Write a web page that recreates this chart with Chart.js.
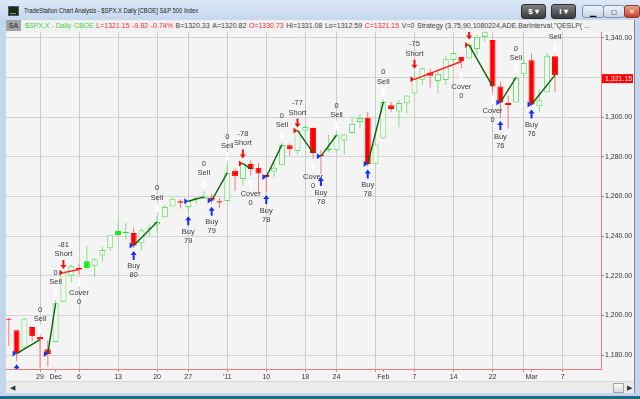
<!DOCTYPE html>
<html>
<head>
<meta charset="utf-8">
<title>$SPX.X Daily</title>
<script src="https://cdn.jsdelivr.net/npm/chart.js@4.4.1/dist/chart.umd.min.js"></script>
<style>
  body { margin: 0; width: 640px; height: 399px; overflow: hidden; position: relative;
         background: #c3d6ec; font-family: "Liberation Sans", Arial, sans-serif; }
  .titlebar { position: absolute; left: 0; top: 0; width: 640px; height: 20px;
              background: linear-gradient(#dde8f6, #c5d7ee); }
  .title { position: absolute; left: 24px; top: 6px; font-size: 7.4px; color: #1a1a1a; white-space: nowrap;
           transform: scaleX(0.79); transform-origin: left center; }
  .appicon { position: absolute; left: 8px; top: 6px; width: 9px; height: 8px; background: #1d2620; border: 1px solid #556; }
  .appicon::after { content: ""; position: absolute; left: 1px; top: 4px; width: 6px; height: 2px; border-bottom: 1px solid #3c3; }
  .tbtn { position: absolute; top: 4px; height: 13px; border-radius: 3px; font-size: 8px; text-align: center; line-height: 13px; }
  .dark { background: linear-gradient(#808080, #3a3a3a); color: #fff; width: 23px; border: 1px solid #2c2c2c; font-weight: bold; }
  .win { top: 5px; height: 11px; width: 20px; background: linear-gradient(#f0f4fa, #c7d4e5); border: 1px solid #8093ab; }
  .close { background: linear-gradient(#eba190, #c6442c); border-color: #8a3a2a; color: #fff; font-size: 7px; line-height: 11px; }
  .strip { position: absolute; left: 6px; top: 20px; width: 628px; height: 12px; background: #f1f1f1;
           font-size: 7px; line-height: 12px; white-space: nowrap; overflow: hidden; color: #444; }
  .strip span { margin-right: 2.6px; }
  .sa { display: inline-block; width: 15px; height: 11px; background: #a2a2a2; color: #222; text-align: center; margin-right: 4px !important; }
  .g { color: #3fd13f; }
  .r { color: #ea3434; }
  #wrap { position: absolute; left: 6px; top: 32px; width: 628px; height: 349px; background: #f4f4f4; }
  .rframe { position: absolute; left: 634px; top: 20px; width: 1px; height: 373px; background: #7d8896; }
  .scroll { position: absolute; left: 6px; top: 381px; width: 628px; height: 11px; background: #ebebeb; border-top: 1px solid #d8d8d8; }
  .scroll .la { position: absolute; left: 4px; top: 0; font-size: 7px; color: #333; line-height: 11px; }
  .scroll .thumb { position: absolute; left: 607px; top: 1px; width: 9px; height: 8px; background: linear-gradient(#fafafa, #d9d9d9); border: 1px solid #a5a5a5; }
  .scroll .ra { position: absolute; left: 621px; top: 0; font-size: 7px; color: #333; line-height: 11px; }
  .bottom { position: absolute; left: 0; top: 396px; width: 640px; height: 3px; background: #1c6c83; }
</style>
</head>
<body>
<div class="titlebar">
  <div class="appicon"></div>
  <div class="title">TradeStation Chart Analysis - $SPX.X Daily [CBOE] S&amp;P 500 Index</div>
  <div class="tbtn dark" style="left:521px">$ &#9662;</div>
  <div class="tbtn dark" style="left:551px">I &#9662;</div>
  <div class="tbtn win" style="left:582px">&#9601;</div>
  <div class="tbtn win" style="left:603px">&#9633;</div>
  <div class="tbtn win close" style="left:624px;width:14px">&#10005;</div>
</div>
<div class="strip" id="strip"></div>
<div id="wrap"><canvas id="chart" width="628" height="349"></canvas></div>
<div class="rframe"></div>
<div class="scroll"><span class="la">&#9664;</span><span class="thumb"></span><span class="ra">&#9654;</span></div>
<div class="bottom"></div>

<script>
// daily bars, Nov 22 2010 .. Mar 4 2011
const dates = ["11/22","11/23","11/24","11/26","11/29","11/30","12/1","12/2","12/3","12/6","12/7","12/8","12/9","12/10",
  "12/13","12/14","12/15","12/16","12/17","12/20","12/21","12/22","12/23","12/27","12/28","12/29","12/30","12/31",
  "1/3","1/4","1/5","1/6","1/7","1/10","1/11","1/12","1/13","1/14","1/18","1/19","1/20","1/21","1/24","1/25","1/26",
  "1/27","1/28","1/31","2/1","2/2","2/3","2/4","2/7","2/8","2/9","2/10","2/11","2/14","2/15","2/16","2/17","2/18",
  "2/22","2/23","2/24","2/25","2/28","3/1","3/2","3/3","3/4"];
const opens = [1198.07,1192.51,1183.70,1194.16,1189.08,1182.96,1186.60,1206.81,1219.93,1223.87,1227.25,1225.02,1230.14,1233.85,
  1242.52,1241.84,1241.58,1236.34,1243.63,1245.76,1249.43,1254.94,1257.53,1254.66,1259.10,1258.78,1259.44,1256.76,
  1257.62,1272.95,1268.78,1276.29,1274.41,1270.84,1272.58,1275.65,1285.78,1282.90,1293.22,1294.52,1280.85,1283.63,1283.29,1288.17,1291.97,
  1297.51,1299.63,1276.50,1289.14,1305.91,1302.77,1307.01,1311.85,1318.76,1322.48,1318.13,1318.66,1328.73,1330.43,1329.51,1334.37,1340.38,
  1338.91,1315.44,1307.09,1307.34,1321.61,1328.64,1305.47,1312.37,1330.73];
const highs = [1198.94,1192.51,1198.62,1194.16,1189.08,1187.40,1207.61,1221.89,1225.57,1225.80,1235.05,1228.93,1234.71,1240.40,
  1246.73,1246.59,1244.25,1243.75,1245.81,1250.20,1255.82,1259.39,1258.59,1258.43,1259.90,1262.60,1261.09,1259.34,
  1276.17,1274.12,1277.63,1278.17,1276.83,1271.52,1277.25,1286.87,1286.70,1293.24,1296.06,1294.60,1283.35,1291.21,1291.93,1291.26,1299.74,
  1301.63,1302.67,1287.17,1308.86,1307.61,1308.60,1311.00,1322.85,1324.87,1324.54,1322.78,1330.79,1332.96,1330.43,1337.61,1341.50,1344.07,
  1338.91,1317.91,1310.91,1320.61,1329.38,1332.09,1314.19,1332.28,1331.08];
const lows = [1184.58,1176.91,1183.70,1186.93,1173.64,1174.14,1186.60,1206.81,1216.82,1220.67,1223.25,1219.50,1226.85,1232.58,
  1240.34,1238.17,1234.01,1232.85,1239.87,1241.51,1249.43,1254.94,1254.05,1251.48,1256.22,1258.78,1256.32,1254.19,
  1257.62,1262.66,1265.36,1270.43,1261.70,1262.18,1269.62,1275.65,1280.47,1281.24,1290.16,1278.92,1271.26,1282.07,1282.47,1281.07,1291.97,
  1294.42,1275.10,1276.50,1289.14,1302.62,1294.83,1301.67,1311.85,1316.03,1314.89,1311.74,1316.08,1326.90,1324.61,1329.51,1331.00,1338.12,
  1312.33,1299.55,1294.26,1307.34,1320.55,1305.34,1302.58,1312.37,1312.59];
const closes = [1197.84,1180.73,1198.35,1189.40,1187.76,1180.55,1206.07,1221.53,1224.71,1223.12,1223.75,1228.28,1233.00,1240.40,
  1240.46,1241.59,1235.23,1242.87,1243.91,1247.08,1254.60,1258.84,1256.77,1257.54,1258.51,1259.78,1257.88,1257.64,
  1271.87,1270.20,1276.56,1273.85,1271.50,1269.75,1274.48,1285.96,1283.76,1293.24,1295.02,1281.92,1280.26,1283.35,1290.84,1291.18,1296.63,
  1299.54,1276.34,1286.12,1307.59,1304.03,1307.10,1310.87,1319.05,1324.57,1320.88,1321.87,1329.15,1332.32,1328.01,1336.32,1340.43,1343.01,
  1315.44,1307.40,1306.10,1319.88,1327.22,1306.33,1308.44,1330.97,1321.15];
const priorClose = 1199.73;

// strategy trades (bar numbers), filled at the close
const tradeEntry = [1, 5, 7, 16, 23, 26, 30, 33, 37, 40, 46, 52, 59, 63, 67];
const tradeExit  = [4, 6, 9, 19, 25, 28, 31, 35, 39, 42, 48, 58, 62, 65, 70];
const tradeSide  = ["Buy","Buy","Short","Buy","Buy","Buy","Short","Buy","Short","Buy","Buy","Short","Short","Buy","Buy"];
const tradeQty   = ["81","81","-81","80","79","79","-78","78","-77","78","78","-75","-76","76","76"];

// axis
const xTickBars = [4, 6, 9, 14, 19, 23, 28, 33, 38, 42, 47, 48, 52, 57, 62, 66, 67, 71];
const xTickText = ["29","Dec","6","13","20","27","'11","10","18","24","","Feb","7","14","22","","Mar","7"];
const weekBars = [4, 9, 14, 19, 23, 28, 33, 38, 42, 47, 52, 57, 62, 66, 71];
const yTicks = [1180, 1200, 1220, 1240, 1260, 1280, 1300, 1320, 1340];

const fontFamily = '"Liberation Sans", Arial, sans-serif';
Chart.defaults.font.family = fontFamily;

const last = closes.length - 1;
const lastClose = closes[last];
const fmt = v => v.toLocaleString("en-US", { minimumFractionDigits: 2, maximumFractionDigits: 2 });

// status strip
const chg = lastClose - closes[last - 1];
document.getElementById("strip").innerHTML =
  '<span class="sa">SA</span>' +
  '<span class="g">$SPX.X - Daily</span><span class="g">CBOE</span>' +
  '<span class="r">L=' + lastClose.toFixed(2) + '</span>' +
  '<span class="r">' + chg.toFixed(2) + '</span>' +
  '<span class="r">' + (chg / closes[last - 1] * 100).toFixed(2) + '%</span>' +
  '<span>B=1320.33</span><span>A=1320.82</span>' +
  '<span class="r">O=' + opens[last].toFixed(2) + '</span>' +
  '<span>Hi=' + highs[last].toFixed(2) + '</span>' +
  '<span>Lo=' + lows[last].toFixed(2) + '</span>' +
  '<span class="r">C=' + lastClose.toFixed(2) + '</span>' +
  '<span>V=0</span>' +
  '<span>Strategy (3,75,90,1080224,ADE.BarInterval,"QESLP( ...</span>';

// candle colours: green/red vs previous close, hollow when close >= open
const upDay = closes.map((c, i) => c >= (i ? closes[i - 1] : priorClose));
const hollow = closes.map((c, i) => c >= opens[i]);
const bodyFill = closes.map((c, i) => hollow[i] ? "#f4f4f4" : (upDay[i] ? "#12ec12" : "#ff0000"));
const bodyEdge = closes.map((c, i) => upDay[i] ? (hollow[i] ? "#5ede5e" : "#12ec12") : (hollow[i] ? "#f26060" : "#ff0000"));
const wickColor = upDay.map(u => u ? "#7ee47e" : "#f27a7a");

const tradeLines = tradeEntry.map((e, k) => {
  const x0 = tradeExit[k];
  const win = tradeSide[k] === "Buy" ? closes[x0] > closes[e] : closes[x0] < closes[e];
  return {
    type: "line",
    data: [{ x: e, y: closes[e] }, { x: x0, y: closes[x0] }],
    borderColor: win ? "#0b640b" : "#ff1c1c",
    borderWidth: 1.4,
    pointRadius: 0,
    order: 0
  };
});

function arrow(ctx, cx, tip, tail, color) {
  const d = tail > tip ? 1 : -1;
  ctx.fillStyle = color;
  ctx.beginPath();
  ctx.moveTo(cx, tip);
  ctx.lineTo(cx + 3, tip + d * 4);
  ctx.lineTo(cx + 1, tip + d * 4);
  ctx.lineTo(cx + 1, tail);
  ctx.lineTo(cx - 1, tail);
  ctx.lineTo(cx - 1, tip + d * 4);
  ctx.lineTo(cx - 3, tip + d * 4);
  ctx.closePath();
  ctx.fill();
}

// arrows, labels and entry markers
const tradeMarks = {
  id: "tradeMarks",
  afterDatasetsDraw(chart) {
    const { ctx, chartArea: a, scales: { x, y } } = chart;
    ctx.save();
    ctx.beginPath();
    ctx.rect(a.left, a.top, a.right - a.left, a.bottom - a.top);
    ctx.clip();
    ctx.font = "7.5px " + fontFamily;
    ctx.textAlign = "center";
    ctx.textBaseline = "middle";

    const above = (i, color, l1, l2) => {
      const px = x.getPixelForValue(i), yh = y.getPixelForValue(highs[i]);
      arrow(ctx, px, yh - 3, yh - 12, color);
      ctx.fillStyle = "#3c3c3c";
      ctx.fillText(l1, px, yh - 18);
      ctx.fillText(l2, px, yh - 27.5);
    };
    const below = (i, color, l1, l2) => {
      const px = x.getPixelForValue(i), yl = y.getPixelForValue(lows[i]);
      arrow(ctx, px, yl + 3, yl + 12, color);
      ctx.fillStyle = "#3c3c3c";
      ctx.fillText(l1, px, yl + 18.5);
      ctx.fillText(l2, px, yl + 27.5);
    };

    tradeEntry.forEach((e, k) => {
      const long = tradeSide[k] === "Buy";
      if (long) {
        below(e, "#1030ff", "Buy", tradeQty[k]);
        above(tradeExit[k], "#ffffff", "Sell", "0");
      } else {
        above(e, "#f01010", "Short", tradeQty[k]);
        below(tradeExit[k], "#ffffff", "Cover", "0");
      }
      // entry marker
      const px = x.getPixelForValue(e), py = y.getPixelForValue(closes[e]);
      ctx.fillStyle = long ? "#1030ff" : "#f01010";
      ctx.beginPath();
      ctx.moveTo(px - 4, py - 3);
      ctx.lineTo(px, py);
      ctx.lineTo(px - 4, py + 3);
      ctx.closePath();
      ctx.fill();
    });
    ctx.restore();
  },
  afterDraw(chart) {
    const { ctx, chartArea: a, scales: { y } } = chart;
    const yv = y.getPixelForValue(lastClose);
    ctx.save();
    ctx.fillStyle = "#ff0000";
    ctx.fillRect(a.right + 1, yv - 1, chart.width - a.right - 2, 9);
    ctx.fillStyle = "#ffffff";
    ctx.font = "7px " + fontFamily;
    ctx.textAlign = "left";
    ctx.textBaseline = "middle";
    ctx.fillText(fmt(lastClose), a.right + 4, yv + 3.5);
    ctx.restore();
  }
};

const ctx = document.getElementById("chart").getContext("2d");
const myChart = new Chart(ctx, {
  type: "bar",
  data: {
    datasets: [
      ...tradeLines,
      {
        type: "bar",
        data: closes.map((c, i) => ({ x: i, y: [opens[i], c] })),
        backgroundColor: bodyFill,
        borderColor: bodyEdge,
        borderWidth: 1,
        borderSkipped: false,
        barThickness: 6,
        minBarLength: 1,
        inflateAmount: 0,
        grouped: false,
        order: 1
      },
      {
        type: "bar",
        data: closes.map((c, i) => ({ x: i, y: [lows[i], highs[i]] })),
        backgroundColor: wickColor,
        borderWidth: 0,
        barThickness: 1,
        inflateAmount: 0,
        grouped: false,
        order: 2
      }
    ]
  },
  options: {
    responsive: false,
    animation: false,
    devicePixelRatio: 1,
    layout: { padding: 0 },
    plugins: { legend: { display: false }, tooltip: { enabled: false } },
    scales: {
      x: {
        type: "linear",
        min: -0.36,
        max: 75.9,
        offset: false,
        grid: {
          offset: false,
          color: c => weekBars.includes(c.tick && c.tick.value) ? "#cbcbcb" : "rgba(0,0,0,0)",
          tickColor: "#f07a7a",
          tickLength: 3
        },
        border: { color: "#f07a7a" },
        ticks: {
          autoSkip: false,
          maxRotation: 0,
          padding: 1,
          color: "#333",
          font: { size: 7 },
          callback: v => xTickText[xTickBars.indexOf(v)] || ""
        },
        afterBuildTicks: ax => { ax.ticks = xTickBars.map(v => ({ value: v })); },
        afterFit: ax => { ax.height = 12; ax.paddingLeft = 0; ax.paddingRight = 0; }
      },
      y: {
        type: "linear",
        position: "right",
        min: 1172.94,
        max: 1342.9,
        beginAtZero: false,
        grid: { color: "#d3d3d3", tickColor: "#8a8a8a", tickLength: 3 },
        border: { color: "#f07a7a" },
        ticks: {
          padding: 1,
          color: "#333",
          font: { size: 7 },
          callback: v => Math.abs(v - lastClose) < 4 ? "" : fmt(v)
        },
        afterBuildTicks: ax => { ax.ticks = yTicks.map(v => ({ value: v })); },
        afterFit: ax => { ax.width = 33; ax.paddingTop = 0; ax.paddingBottom = 0; }
      }
    }
  },
  plugins: [tradeMarks]
});
</script>
</body>
</html>
